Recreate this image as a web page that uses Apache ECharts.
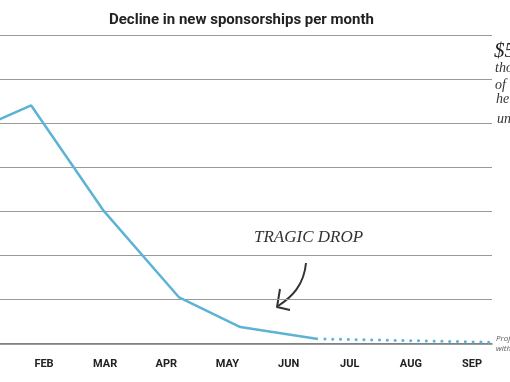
<!DOCTYPE html>
<html><head><meta charset="utf-8">
<script src="https://cdn.jsdelivr.net/npm/echarts@6/dist/echarts.min.js"></script>
<style>html,body{margin:0;padding:0;background:#fff;overflow:hidden}#c{width:510px;height:382px}</style>
</head><body><div id="c"></div>
<script>
// Month tick labels (index 0 = JAN, which falls just off the left edge)
const monthLabels = ['JAN','FEB','MAR','APR','MAY','JUN','JUL','AUG','SEP'];
const labelMonths = [1, 2, 3, 4, 5, 6, 7, 8];
// Actual new sponsorships (x in months from JAN, y in sponsorships)
const actualX = [0, 0.79, 1.98, 3.21, 4.21, 5.48];
const actualY = [246, 270, 150, 52, 18.5, 5];
// Projected continuation
const projX = [5.48, 8.33];
const projY = [5, 1.2];
// Hidden value-axis range
const yMin = 0, yMax = 350, yStep = 50;

const zip = (xs, ys) => xs.map((x, i) => [x, ys[i]]);
const blue = '#5db3d4';
const hand = '"Liberation Serif", "DejaVu Serif", serif';

const chart = echarts.init(document.getElementById('c'), null, {renderer: 'canvas'});
chart.setOption({
  animation: false,
  backgroundColor: '#fff',
  title: {
    text: 'Decline in new sponsorships per month',
    left: 104, top: 8,
    textStyle: {fontFamily: 'Roboto', fontWeight: 'bold', fontSize: 15, color: '#222'}
  },
  grid: {left: 0, right: 18, top: 35, bottom: 38.7, containLabel: false},
  xAxis: {
    type: 'value', min: 0.28, max: 8.327,
    axisLine: {show: true, lineStyle: {color: '#7a7a7a', width: 1.5}},
    axisTick: {show: false},
    splitLine: {show: false},
    axisLabel: {
      margin: 15,
      customValues: labelMonths,
      fontFamily: 'Roboto', fontWeight: 'bold', fontSize: 11, color: '#222',
      formatter: v => monthLabels[Math.round(v)] || ''
    }
  },
  yAxis: {
    type: 'value', min: yMin, max: yMax, interval: yStep,
    axisLine: {show: false}, axisTick: {show: false}, axisLabel: {show: false},
    splitLine: {show: true, lineStyle: {color: '#999', width: 1.2}}
  },
  series: [
    {
      type: 'line', data: zip(actualX, actualY), symbol: 'none', clip: true,
      lineStyle: {color: blue, width: 2.5}, z: 5
    },
    {
      type: 'line', data: zip(projX, projY), symbol: 'none',
      lineStyle: {color: blue, width: 3, type: [0.1, 7.7], cap: 'round', dashOffset: -7}, z: 5
    }
  ],
  graphic: [
    {type: 'text', left: 254, top: 229, style: {text: 'TRAGIC DROP', font: 'italic 17px ' + hand, fill: '#333'}},
    {type: 'bezierCurve', shape: {x1: 306, y1: 263, x2: 278, y2: 306, cpx1: 304, cpy1: 285, cpx2: 292, cpy2: 297},
      style: {stroke: '#333', lineWidth: 2, fill: null}},
    {type: 'polyline', shape: {points: [[280, 289], [277, 307], [290, 310]]},
      style: {stroke: '#333', lineWidth: 2, fill: null, lineJoin: 'round'}},
    {type: 'text', left: 494, top: 41, style: {text: '$5', font: 'italic 21px ' + hand, fill: '#222'}},
    {type: 'text', left: 495, top: 61, style: {text: 'thousand', font: 'italic 14px ' + hand, fill: '#333'}},
    {type: 'text', left: 495, top: 78, style: {text: 'of', font: 'italic 14px ' + hand, fill: '#333'}},
    {type: 'text', left: 496, top: 92, style: {text: 'help', font: 'italic 14px ' + hand, fill: '#333'}},
    {type: 'text', left: 497, top: 112, style: {text: 'unmet', font: 'italic 14px ' + hand, fill: '#333'}},
    {type: 'text', left: 496, top: 335, style: {text: 'Projected', font: 'italic 8px "Open Sans", sans-serif', fill: '#555'}},
    {type: 'text', left: 496, top: 345, style: {text: 'without', font: 'italic 8px "Open Sans", sans-serif', fill: '#555'}}
  ]
});
</script>
</body></html>
